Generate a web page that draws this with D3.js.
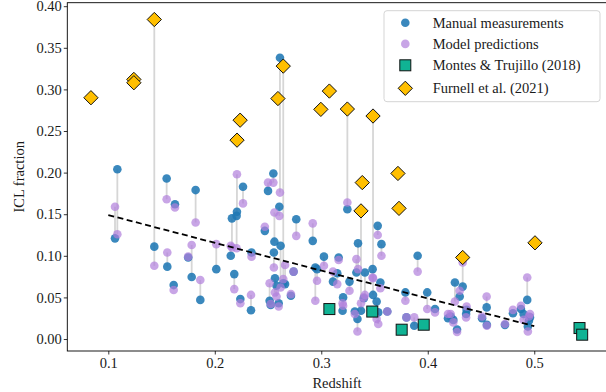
<!DOCTYPE html>
<html>
<head>
<meta charset="utf-8">
<script src="https://d3js.org/d3.v7.min.js"></script>
<style>
  body { margin: 0; background: #fff; }
</style>
</head>
<body>
<svg width="606" height="392"></svg>
<script>
// redshift of each cluster, with the manual measurement and model prediction
var clusterZ = [0.1063, 0.1085, 0.1432, 0.1548, 0.1554, 0.1626, 0.1614, 0.175, 0.1783, 0.182,
    0.1864, 0.2014, 0.215, 0.2161, 0.2183, 0.2205, 0.2208, 0.224, 0.2265, 0.234,
    0.2345, 0.247, 0.250, 0.2515, 0.2525, 0.255, 0.2555, 0.256, 0.2565, 0.258,
    0.260, 0.2606, 0.2612, 0.2618, 0.2643, 0.266, 0.2715, 0.274, 0.2765, 0.292,
    0.2944, 0.296, 0.3025, 0.311, 0.315, 0.3163, 0.320, 0.3205, 0.3245, 0.3265,
    0.3315, 0.333, 0.334, 0.3345, 0.3373, 0.340, 0.341, 0.3486, 0.3482, 0.352,
    0.353, 0.3535, 0.3555, 0.3565, 0.362, 0.379, 0.380, 0.3873, 0.3905, 0.3995,
    0.4068, 0.419, 0.4215, 0.424, 0.4255, 0.4275, 0.430, 0.4328, 0.436, 0.4365,
    0.451, 0.4553, 0.4555, 0.4725, 0.480, 0.4875, 0.490, 0.4934, 0.494, 0.496, 0.495];

var manualICL = [0.121, 0.204, 0.111, 0.193, 0.087, 0.162, 0.065, 0.098, 0.0745, 0.179,
    0.047, 0.084, 0.100, 0.145, 0.078, 0.148, 0.153, 0.048, 0.183, 0.0345,
    0.104, 0.130, 0.178, 0.046, 0.041, 0.199, 0.104, 0.117, 0.073, 0.064,
    0.043, 0.159, 0.338, 0.112, 0.067, 0.066, 0.052, 0.081, 0.144, 0.118,
    0.086, 0.084, 0.099, 0.069, 0.079, 0.098, 0.034, 0.050, 0.156, 0.069,
    0.033, 0.080, 0.024, 0.115, 0.034, 0.049, 0.080, 0.053, 0.084, 0.045,
    0.136, 0.032, 0.068, 0.114, 0.033, 0.056, 0.026, 0.016, 0.100, 0.056,
    0.036, 0.025, 0.027, 0.023, 0.068, 0.0115, 0.051, 0.063, 0.030, 0.035,
    0.025, 0.038, 0.017, 0.017, 0.031, 0.036, 0.030, 0.047, 0.015, 0.026, 0.022];

var modelICL = [0.159, 0.126, 0.088, 0.168, 0.104, 0.158, 0.059, 0.099, 0.113, 0.140,
    0.071, 0.114, 0.112, 0.110, 0.060, 0.109, 0.198, 0.043, 0.163, 0.053,
    0.099, 0.135, 0.188, 0.067, 0.042, 0.188, 0.086, 0.152, 0.056, 0.051,
    0.039, 0.148, 0.176, 0.062, 0.072, 0.089, 0.054, 0.081, 0.124, 0.139,
    0.046, 0.070, 0.088, 0.081, 0.066, 0.095, 0.043, 0.040, 0.164, 0.058,
    0.030, 0.096, 0.009, 0.084, 0.043, 0.050, 0.053, 0.073, 0.074, 0.024,
    0.125, 0.018, 0.061, 0.100, 0.033, 0.046, 0.026, 0.026, 0.081, 0.036,
    0.032, 0.030, 0.030, 0.020, 0.045, 0.0085, 0.058, 0.092, 0.026, 0.039,
    0.027, 0.051, 0.016, 0.018, 0.035, 0.040, 0.023, 0.074, 0.009, 0.030, 0.027];

var montesZ = [0.3076, 0.3479, 0.3755, 0.3962, 0.5425, 0.545];
var montesICL = [0.036, 0.033, 0.0112, 0.0172, 0.0132, 0.0052];

var furnellZ = [0.0837, 0.124, 0.124, 0.1432, 0.2209, 0.2238, 0.2593, 0.2643, 0.2996,
    0.3076, 0.3245, 0.3373, 0.3385, 0.3486, 0.372, 0.373, 0.4328, 0.5007];
var furnellICL = [0.290, 0.312, 0.308, 0.384, 0.239, 0.263, 0.289, 0.328, 0.276,
    0.298, 0.2764, 0.154, 0.188, 0.268, 0.199, 0.157, 0.098, 0.1156];

// dashed trend line end points
var fitZ = [0.1, 0.5];
var fitICL = [0.149, 0.0155];

var xTicks = [0.1, 0.2, 0.3, 0.4, 0.5];
var yTicks = [0, 0.05, 0.10, 0.15, 0.20, 0.25, 0.30, 0.35, 0.40];

var legendLabels = ["Manual measurements", "Model predictions", "Montes & Trujillo (2018)", "Furnell et al. (2021)"];

var svg = d3.select("svg");

var FONT = "'Liberation Serif', 'DejaVu Serif', serif";
var fontSize = "14.5px";

var mLeft = 67.3, mRight = 608.9, mTop = 2.7, mBottom = 351;

var x = d3.scaleLinear().domain([0.0615, 0.5701]).range([mLeft, mRight]);
var y = d3.scaleLinear().domain([-0.0144, 0.4042]).range([mBottom, mTop]);

var blue = "#1f77b4", purple = "#b07fdc", teal = "#10b394", gold = "#ffbf00";

// one grey stem per cluster, reaching up to a Furnell point at the same redshift
var stems = clusterZ.map(function(z, i) {
    var vals = [manualICL[i], modelICL[i]];
    furnellZ.forEach(function(fz, j) { if (fz === z) vals.push(furnellICL[j]); });
    return { z: z, lo: d3.min(vals), hi: d3.max(vals) };
});

var plot = svg.append("g");

plot.selectAll("line.stem")
    .data(stems)
    .enter().append("line")
        .attr("class", "stem")
        .attr("x1", function(d) { return x(d.z); })
        .attr("x2", function(d) { return x(d.z); })
        .attr("y1", function(d) { return y(d.lo); })
        .attr("y2", function(d) { return y(d.hi); })
        .attr("stroke", "#d6d6d6")
        .attr("stroke-width", 1.8);

plot.selectAll("circle.manual")
    .data(clusterZ)
    .enter().append("circle")
        .attr("class", "manual")
        .attr("cx", function(d) { return x(d); })
        .attr("cy", function(d, i) { return y(manualICL[i]); })
        .attr("r", 4.3)
        .attr("fill", blue)
        .attr("fill-opacity", 0.88);

plot.selectAll("circle.model")
    .data(clusterZ)
    .enter().append("circle")
        .attr("class", "model")
        .attr("cx", function(d) { return x(d); })
        .attr("cy", function(d, i) { return y(modelICL[i]); })
        .attr("r", 4.3)
        .attr("fill", purple)
        .attr("fill-opacity", 0.7);

plot.append("line")
    .attr("x1", x(fitZ[0])).attr("y1", y(fitICL[0]))
    .attr("x2", x(fitZ[1])).attr("y2", y(fitICL[1]))
    .attr("stroke", "#000")
    .attr("stroke-width", 1.8)
    .attr("stroke-dasharray", "6,3.5");

var sq = 11;
plot.selectAll("rect.montes")
    .data(montesZ)
    .enter().append("rect")
        .attr("class", "montes")
        .attr("x", function(d) { return x(d) - sq / 2; })
        .attr("y", function(d, i) { return y(montesICL[i]) - sq / 2; })
        .attr("width", sq)
        .attr("height", sq)
        .attr("fill", teal)
        .attr("stroke", "#111")
        .attr("stroke-width", 1);

var diamond = d3.symbol().type(d3.symbolDiamond2).size(130);
plot.selectAll("path.furnell")
    .data(furnellZ)
    .enter().append("path")
        .attr("class", "furnell")
        .attr("d", diamond)
        .attr("transform", function(d, i) { return "translate(" + x(d) + "," + y(furnellICL[i]) + ")"; })
        .attr("fill", gold)
        .attr("stroke", "#111")
        .attr("stroke-width", 1);

// axes
var xAxis = svg.append("g")
    .attr("transform", "translate(0," + mBottom + ")")
    .call(d3.axisBottom(x).tickValues(xTicks).tickSize(3.5).tickFormat(d3.format(".1f")));
var yAxis = svg.append("g")
    .attr("transform", "translate(" + mLeft + ",0)")
    .call(d3.axisLeft(y).tickValues(yTicks).tickSize(3.5).tickFormat(d3.format(".2f")));

[xAxis, yAxis].forEach(function(a) {
    a.attr("font-family", null).attr("font-size", null);
    a.selectAll(".domain").remove();
    a.selectAll("line").attr("stroke", "#000").attr("stroke-width", 0.8);
    a.selectAll("text")
        .style("font-family", FONT)
        .style("font-size", fontSize)
        .attr("fill", "#1a1a1a");
});
xAxis.selectAll("text").attr("dy", "0.6em").attr("y", 8);
yAxis.selectAll("text").attr("x", -5.5);

// spines
svg.append("rect")
    .attr("x", mLeft).attr("y", mTop)
    .attr("width", mRight - mLeft).attr("height", mBottom - mTop)
    .attr("fill", "none")
    .attr("stroke", "#000")
    .attr("stroke-width", 0.9);

svg.append("text")
    .attr("x", 337)
    .attr("y", 388)
    .attr("text-anchor", "middle")
    .style("font-family", FONT)
    .style("font-size", fontSize)
    .attr("fill", "#1a1a1a")
    .text("Redshift");

svg.append("text")
    .attr("transform", "translate(24," + ((mTop + mBottom) / 2) + ") rotate(-90)")
    .attr("text-anchor", "middle")
    .style("font-family", FONT)
    .style("font-size", fontSize)
    .attr("fill", "#1a1a1a")
    .text("ICL fraction");

// legend
var legend = svg.append("g");
legend.append("rect")
    .attr("x", 384).attr("y", 10.7)
    .attr("width", 216).attr("height", 91)
    .attr("rx", 3)
    .attr("fill", "#fff")
    .attr("fill-opacity", 0.8)
    .attr("stroke", "#d0d0d0")
    .attr("stroke-width", 0.9);

var rowY = [22.7, 43.9, 65.3, 88.3];
var mx = 405.3;

legend.append("circle").attr("cx", mx).attr("cy", rowY[0]).attr("r", 4.3)
    .attr("fill", blue).attr("fill-opacity", 0.88);
legend.append("circle").attr("cx", mx).attr("cy", rowY[1]).attr("r", 4.3)
    .attr("fill", purple).attr("fill-opacity", 0.7);
legend.append("rect").attr("x", mx - sq / 2).attr("y", rowY[2] - sq / 2)
    .attr("width", sq).attr("height", sq)
    .attr("fill", teal).attr("stroke", "#111").attr("stroke-width", 1);
legend.append("path").attr("d", diamond)
    .attr("transform", "translate(" + mx + "," + rowY[3] + ")")
    .attr("fill", gold).attr("stroke", "#111").attr("stroke-width", 1);

legend.selectAll("text")
    .data(legendLabels)
    .enter().append("text")
        .attr("x", 432.7)
        .attr("y", function(d, i) { return rowY[i]; })
        .attr("dy", "0.35em")
        .style("font-family", FONT)
        .style("font-size", fontSize)
        .attr("fill", "#1a1a1a")
        .text(function(d) { return d; });
</script>
</body>
</html>
